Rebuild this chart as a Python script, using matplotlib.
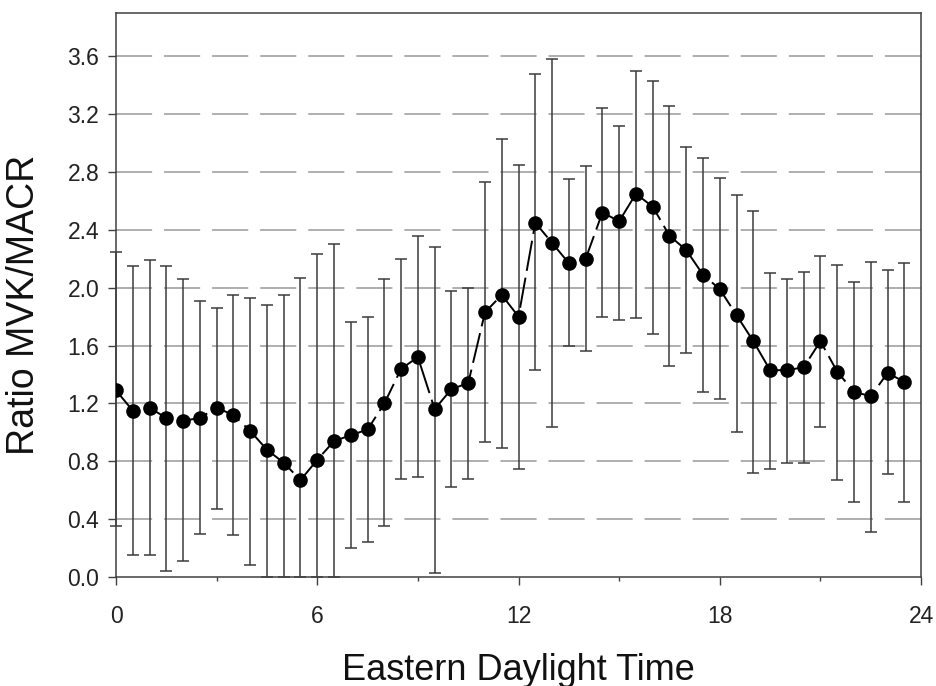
import numpy as np
import matplotlib.pyplot as plt

plt.rcParams['font.family'] = ['Liberation Sans', 'DejaVu Sans']
plt.rcParams['lines.scale_dashes'] = False

# half-hourly means and error bar ends
hours = np.arange(0, 24, 0.5)
ratio = [1.29, 1.15, 1.17, 1.10, 1.08, 1.10, 1.17, 1.12, 1.01, 0.88,
         0.79, 0.67, 0.81, 0.94, 0.98, 1.02, 1.20, 1.44, 1.52, 1.16,
         1.30, 1.34, 1.83, 1.95, 1.80, 2.45, 2.31, 2.17, 2.20, 2.52,
         2.46, 2.65, 2.56, 2.36, 2.26, 2.09, 1.99, 1.81, 1.63, 1.43,
         1.43, 1.45, 1.63, 1.42, 1.28, 1.25, 1.41, 1.35]
err_hi = [2.25, 2.15, 2.19, 2.15, 2.06, 1.91, 1.86, 1.95, 1.93, 1.88,
          1.95, 2.07, 2.23, 2.30, 1.76, 1.80, 2.06, 2.20, 2.36, 2.28,
          1.98, 2.00, 2.73, 3.03, 2.85, 3.48, 3.58, 2.75, 2.84, 3.24,
          3.12, 3.50, 3.43, 3.26, 2.97, 2.90, 2.76, 2.64, 2.53, 2.10,
          2.06, 2.11, 2.22, 2.16, 2.04, 2.18, 2.12, 2.17]
err_lo = [0.35, 0.15, 0.15, 0.04, 0.11, 0.30, 0.47, 0.29, 0.08, 0.0,
          0.0, 0.0, 0.0, 0.0, 0.20, 0.24, 0.35, 0.68, 0.69, 0.03,
          0.62, 0.68, 0.93, 0.89, 0.75, 1.43, 1.04, 1.60, 1.56, 1.80,
          1.78, 1.79, 1.68, 1.46, 1.55, 1.28, 1.23, 1.00, 0.72, 0.75,
          0.79, 0.79, 1.04, 0.67, 0.52, 0.31, 0.71, 0.52]

ratio = np.array(ratio)
yerr = [ratio - np.array(err_lo), np.array(err_hi) - ratio]

fig = plt.figure(figsize=(9.37, 6.86), dpi=100)
ax = fig.add_axes([0.1238, 0.1589, 0.8592, 0.8222])

# dashed grid
for gy in np.arange(0.4, 3.7, 0.4):
    ax.axhline(gy, color='#a8a8a8', lw=1.3, dashes=(26, 8.6), zorder=0)

ax.errorbar(hours, ratio, yerr=yerr, fmt='none', ecolor='#3c3c3c',
            elinewidth=1.1, capsize=4, capthick=1.1, clip_on=False, zorder=2)
ax.plot(hours, ratio, color='black', lw=1.4, dashes=(22, 5), zorder=3)
ax.plot(hours, ratio, 'o', color='black', ms=9.5, zorder=4)

ax.set_xlim(0, 24)
ax.set_ylim(0, 3.9)
ax.set_xticks([0, 6, 12, 18, 24])
ax.set_xticks([3, 9, 15, 21], minor=True)
ax.set_yticks(np.arange(0, 3.7, 0.4))
ax.set_yticklabels([f'{v:.1f}' for v in np.arange(0, 3.7, 0.4)])

for s in ax.spines.values():
    s.set_color('#404040')
    s.set_linewidth(1.1)
ax.tick_params(axis='both', which='major', direction='out', length=6,
               width=1.0, color='#404040', labelsize=16.5, labelcolor='#222222')
ax.tick_params(axis='x', which='major', pad=14)
ax.tick_params(axis='y', which='major', pad=6)
ax.tick_params(axis='x', which='minor', direction='out', length=3,
               width=1.0, color='#404040')

fig.text(0.553, 0.009, 'Eastern Daylight Time', fontsize=26,
         ha='center', va='baseline', color='#111111')
fig.text(0.026, 0.555, 'Ratio MVK/MACR', fontsize=27, rotation=90,
         ha='center', va='center', color='#111111')

fig.savefig('out.png', dpi=100)
